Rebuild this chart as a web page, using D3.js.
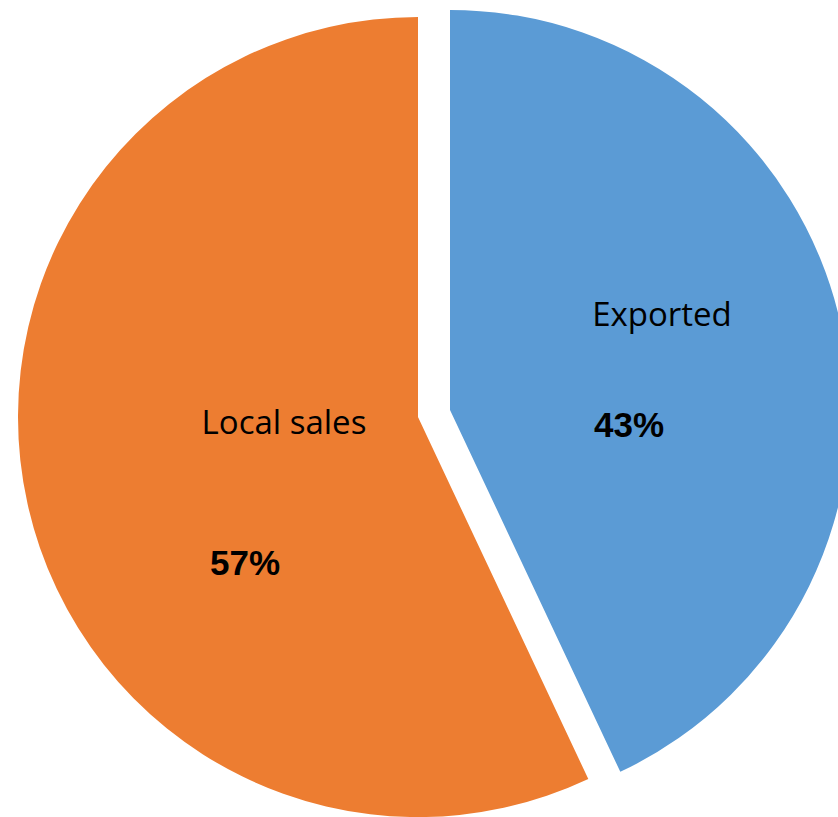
<!DOCTYPE html>
<html>
<head>
<meta charset="utf-8">
<script src="https://cdn.jsdelivr.net/npm/d3@7"></script>
<style>
  html, body { margin: 0; padding: 0; background: #ffffff; }
  svg { display: block; }
</style>
</head>
<body>
<svg id="chart" width="838" height="817"></svg>
<script>
const categories = ["Exported", "Local sales"];
const values = [43, 57];
const percentLabels = ["43%", "57%"];
const colors = ["#5B9BD5", "#ED7D31"];

const W = 838, H = 817;
const cx = 434, cy = 413.5, R = 400, explode = 16.4;

const svg = d3.select("#chart");
const pie = d3.pie().sort(null).startAngle(0).endAngle(2 * Math.PI);
const arcs = pie(values);
const arc = d3.arc().innerRadius(0).outerRadius(R);

// label offsets relative to each slice's apex (layout, not data)
const nameOffsets = [[212, -84], [-134, 17]];
const pctOffsets = [[179, 27], [-173, 158]];

const g = svg.append("g").attr("transform", `translate(${cx},${cy})`);

arcs.forEach((a, i) => {
  const mid = (a.startAngle + a.endAngle) / 2;
  const dx = Math.sin(mid) * explode, dy = -Math.cos(mid) * explode;
  const sg = g.append("g").attr("transform", `translate(${dx},${dy})`);
  sg.append("path").attr("d", arc(a)).attr("fill", colors[i]);
  sg.append("text")
    .attr("x", nameOffsets[i][0]).attr("y", nameOffsets[i][1])
    .attr("text-anchor", "middle")
    .attr("font-family", "'Open Sans', sans-serif")
    .attr("font-size", 33)
    .attr("fill", "#000")
    .text(categories[i]);
  sg.append("text")
    .attr("x", pctOffsets[i][0]).attr("y", pctOffsets[i][1])
    .attr("text-anchor", "middle")
    .attr("font-family", "'Liberation Sans', Arial, sans-serif")
    .attr("font-weight", "bold")
    .attr("font-size", 35)
    .attr("fill", "#000")
    .text(percentLabels[i]);
});
</script>
</body>
</html>
